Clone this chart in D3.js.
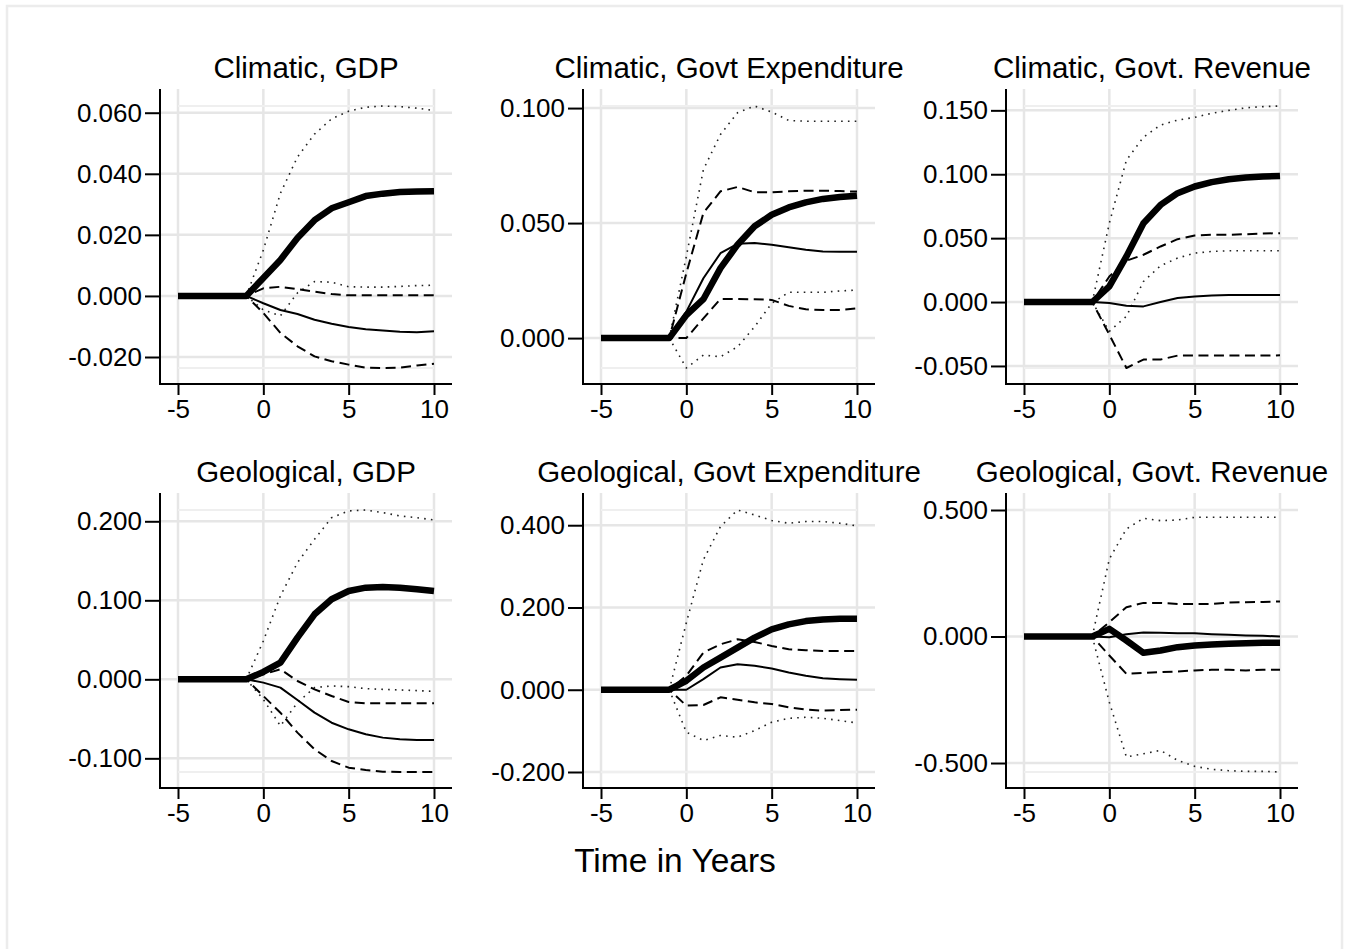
<!DOCTYPE html>
<html>
<head>
<meta charset="utf-8">
<script src="https://cdn.jsdelivr.net/npm/d3@7"></script>
<style>
  html, body { margin: 0; padding: 0; background: #fff; }
  svg { display: block; }
  text { font-family: "Liberation Sans", Arial, Helvetica, sans-serif; fill: #000; }
</style>
</head>
<body>
<svg id="chart" width="1346" height="949"></svg>
<script>
// Horizon in years relative to the disaster
const years = [-5, -4, -3, -2, -1, 0, 1, 2, 3, 4, 5, 6, 7, 8, 9, 10];
const xTicks = [-5, 0, 5, 10];

// Climatic disaster, GDP
const climGdpEst   = [0,0,0,0,0, 0.0059, 0.0118, 0.0190, 0.0248, 0.0287, 0.0307, 0.0327, 0.0335, 0.0340, 0.0342, 0.0343];
const climGdpAlt   = [0,0,0,0,0, -0.0024, -0.0046, -0.0059, -0.0078, -0.0091, -0.0102, -0.0109, -0.0113, -0.0117, -0.0119, -0.0116];
const climGdpHi90  = [0,0,0,0,0, 0.0025, 0.0030, 0.0022, 0.0014, 0.0006, 0.0002, 0.0002, 0.0002, 0.0002, 0.0002, 0.0002];
const climGdpLo90  = [0,0,0,0,0, -0.0056, -0.0121, -0.0165, -0.0198, -0.0214, -0.0225, -0.0235, -0.0236, -0.0235, -0.0228, -0.0222];
const climGdpHi95  = [0,0,0,0,0, 0.0150, 0.0336, 0.0455, 0.0530, 0.0580, 0.0605, 0.0618, 0.0622, 0.0620, 0.0615, 0.0607];
const climGdpLo95  = [0,0,0,0,0, -0.0046, -0.0065, 0.0010, 0.0047, 0.0045, 0.0030, 0.0029, 0.0029, 0.0031, 0.0034, 0.0035];

// Climatic disaster, government expenditure
const climExpEst   = [0,0,0,0,0, 0.0100, 0.0169, 0.0304, 0.0406, 0.0486, 0.0536, 0.0568, 0.0590, 0.0605, 0.0613, 0.0619];
const climExpAlt   = [0,0,0,0,0, 0.0115, 0.0260, 0.0369, 0.0410, 0.0413, 0.0406, 0.0395, 0.0384, 0.0376, 0.0375, 0.0375];
const climExpHi90  = [0,0,0,0,0, 0.0282, 0.0544, 0.0638, 0.0657, 0.0634, 0.0634, 0.0638, 0.0641, 0.0641, 0.0639, 0.0637];
const climExpLo90  = [0,0,0,0,0, 0, 0.0086, 0.0170, 0.0170, 0.0169, 0.0166, 0.0140, 0.0125, 0.0122, 0.0122, 0.0129];
const climExpHi95  = [0,0,0,0,0, 0.0355, 0.0733, 0.0885, 0.0980, 0.1009, 0.0983, 0.0946, 0.0943, 0.0943, 0.0943, 0.0943];
const climExpLo95  = [0,0,0,0,0, -0.0130, -0.0074, -0.0081, -0.0038, 0.0049, 0.0151, 0.0199, 0.0199, 0.0199, 0.0205, 0.0209];

// Climatic disaster, government revenue
const climRevEst   = [0,0,0,0,0, 0.0122, 0.0357, 0.0617, 0.0760, 0.0852, 0.0904, 0.0938, 0.0961, 0.0974, 0.0982, 0.0987];
const climRevAlt   = [0,0,0,0,0, -0.0008, -0.0029, -0.0034, 0, 0.0031, 0.0044, 0.0052, 0.0055, 0.0055, 0.0055, 0.0055];
const climRevHi90  = [0,0,0,0,0, 0.0200, 0.0323, 0.0370, 0.0435, 0.0492, 0.0521, 0.0526, 0.0526, 0.0531, 0.0536, 0.0539];
const climRevLo90  = [0,0,0,0,0, -0.0255, -0.0516, -0.0450, -0.0450, -0.0419, -0.0419, -0.0419, -0.0419, -0.0419, -0.0419, -0.0417];
const climRevHi95  = [0,0,0,0,0, 0.0617, 0.1110, 0.1290, 0.1385, 0.1424, 0.1445, 0.1477, 0.1500, 0.1520, 0.1529, 0.1534];
const climRevLo95  = [0,0,0,0,0, -0.0229, -0.0112, 0.0161, 0.0284, 0.0344, 0.0383, 0.0396, 0.0401, 0.0401, 0.0401, 0.0401];

// Geological disaster, GDP
const geoGdpEst    = [0,0,0,0,0, 0.0093, 0.0211, 0.0527, 0.0823, 0.1013, 0.1118, 0.1160, 0.1169, 0.1160, 0.1139, 0.1118];
const geoGdpAlt    = [0,0,0,0,0, -0.0042, -0.0105, -0.0262, -0.0422, -0.0549, -0.0633, -0.0696, -0.0738, -0.0760, -0.0768, -0.0768];
const geoGdpHi90   = [0,0,0,0,0, 0.0063, 0.0127, -0.0021, -0.0127, -0.0211, -0.0287, -0.0304, -0.0304, -0.0304, -0.0304, -0.0304];
const geoGdpLo90   = [0,0,0,0,0, -0.0211, -0.0422, -0.0675, -0.0886, -0.1034, -0.1118, -0.1148, -0.1169, -0.1173, -0.1173, -0.1173];
const geoGdpHi95   = [0,0,0,0,0, 0.0485, 0.1055, 0.1477, 0.1772, 0.2046, 0.2131, 0.2143, 0.2110, 0.2068, 0.2046, 0.2017];
const geoGdpLo95   = [0,0,0,0,0, -0.0253, -0.0590, -0.0295, -0.0105, -0.0084, -0.0093, -0.0118, -0.0127, -0.0135, -0.0143, -0.0152];

// Geological disaster, government expenditure
const geoExpEst    = [0,0,0,0,0, 0.0218, 0.0540, 0.0782, 0.1024, 0.1266, 0.1468, 0.1589, 0.1669, 0.1710, 0.1726, 0.1726];
const geoExpAlt    = [0,0,0,0,0, 0, 0.0258, 0.0540, 0.0621, 0.0581, 0.0516, 0.0419, 0.0339, 0.0282, 0.0258, 0.0242];
const geoExpHi90   = [0,0,0,0,0, 0.0339, 0.0903, 0.1105, 0.1226, 0.1161, 0.1065, 0.0984, 0.0960, 0.0944, 0.0944, 0.0944];
const geoExpLo90   = [0,0,0,0,0, -0.0387, -0.0371, -0.0185, -0.0242, -0.0306, -0.0347, -0.0427, -0.0484, -0.0508, -0.0492, -0.0484];
const geoExpHi95   = [0,0,0,0,0, 0.1629, 0.3161, 0.3968, 0.4370, 0.4250, 0.4113, 0.4048, 0.4089, 0.4089, 0.4048, 0.3984];
const geoExpLo95   = [0,0,0,0,0, -0.1032, -0.1234, -0.1113, -0.1153, -0.0992, -0.0790, -0.0694, -0.0669, -0.0694, -0.0750, -0.0806];

// Geological disaster, government revenue
const geoRevEst    = [0,0,0,0,0, 0.0303, -0.0158, -0.0645, -0.0553, -0.0421, -0.0355, -0.0316, -0.0290, -0.0263, -0.0250, -0.0250];
const geoRevAlt    = [0,0,0,0,0, -0.0026, 0.0092, 0.0158, 0.0145, 0.0132, 0.0132, 0.0092, 0.0066, 0.0039, 0.0026, 0];
const geoRevHi90   = [0,0,0,0,0, 0.0566, 0.1158, 0.1329, 0.1329, 0.1289, 0.1289, 0.1289, 0.1342, 0.1355, 0.1368, 0.1382];
const geoRevLo90   = [0,0,0,0,0, -0.0750, -0.1474, -0.1434, -0.1408, -0.1382, -0.1342, -0.1316, -0.1316, -0.1342, -0.1316, -0.1316];
const geoRevHi95   = [0,0,0,0,0, 0.3066, 0.4250, 0.4671, 0.4579, 0.4605, 0.4711, 0.4711, 0.4711, 0.4711, 0.4711, 0.4711];
const geoRevLo95   = [0,0,0,0,0, -0.2600, -0.4763, -0.4632, -0.4500, -0.4895, -0.5132, -0.5250, -0.5303, -0.5329, -0.5329, -0.5355];

// Panel titles and y tick values
const panelTitles = [
  "Climatic, GDP", "Climatic, Govt Expenditure", "Climatic, Govt. Revenue",
  "Geological, GDP", "Geological, Govt Expenditure", "Geological, Govt. Revenue"
];
const yTicksByPanel = [
  [-0.02, 0, 0.02, 0.04, 0.06],
  [0, 0.05, 0.1],
  [-0.05, 0, 0.05, 0.1, 0.15],
  [-0.1, 0, 0.1, 0.2],
  [-0.2, 0, 0.2, 0.4],
  [-0.5, 0, 0.5]
];
const seriesByPanel = [
  [climGdpHi95, climGdpLo95, climGdpHi90, climGdpLo90, climGdpAlt, climGdpEst],
  [climExpHi95, climExpLo95, climExpHi90, climExpLo90, climExpAlt, climExpEst],
  [climRevHi95, climRevLo95, climRevHi90, climRevLo90, climRevAlt, climRevEst],
  [geoGdpHi95, geoGdpLo95, geoGdpHi90, geoGdpLo90, geoGdpAlt, geoGdpEst],
  [geoExpHi95, geoExpLo95, geoExpHi90, geoExpLo90, geoExpAlt, geoExpEst],
  [geoRevHi95, geoRevLo95, geoRevHi90, geoRevLo90, geoRevAlt, geoRevEst]
];
const xTitle = "Time in Years";

// Line styles, in drawing order: dotted bands, dashed bands, thin solid, thick estimate
const lineStyles = [
  { width: 1.6, dash: "1.6 5.2", color: "#222" },
  { width: 1.6, dash: "1.6 5.2", color: "#222" },
  { width: 2.0, dash: "10 5.5", color: "#000" },
  { width: 2.0, dash: "10 5.5", color: "#000" },
  { width: 2.0, dash: null, color: "#000" },
  { width: 6.5, dash: null, color: "#000" }
];

const svg = d3.select("#chart");

// outer frame of the combined graph
svg.append("rect")
  .attr("x", 7).attr("y", 6).attr("width", 1335).attr("height", 970)
  .attr("fill", "none").attr("stroke", "#ececec").attr("stroke-width", 2.5);

// panel geometry
const colAxisX = [160, 583, 1006];
const rowTop = [89, 493];
const plotW = 292, plotH = 295;
const padX = 18, padTop = 17, padBottom = 16;

// plain hyphen for negative numbers
const locale = d3.formatLocale({ decimal: ".", thousands: ",", grouping: [3], currency: ["", ""], minus: "-" });
const fmtY = locale.format(".3f");
const fmtX = locale.format("d");

panelTitles.forEach((title, i) => {
  const col = i % 3, row = Math.floor(i / 3);
  const left = colAxisX[col], top = rowTop[row];
  const bottom = top + plotH, right = left + plotW;
  const series = seriesByPanel[i];
  const yTicks = yTicksByPanel[i];

  const x = d3.scaleLinear().domain([-5, 10]).range([left + padX, right - padX]);
  const allVals = series.flat().concat(yTicks);
  const yExt = d3.extent(allVals);
  const y = d3.scaleLinear().domain(yExt).range([bottom - padBottom, top + padTop]);

  const g = svg.append("g");

  // gridlines
  g.append("g").selectAll("line").data(yTicks).join("line")
    .attr("x1", left).attr("x2", right)
    .attr("y1", d => y(d)).attr("y2", d => y(d))
    .attr("stroke", "#e6e6e6").attr("stroke-width", 2.5);
  g.append("g").selectAll("line").data(xTicks).join("line")
    .attr("x1", d => x(d)).attr("x2", d => x(d))
    .attr("y1", top).attr("y2", bottom)
    .attr("stroke", "#e6e6e6").attr("stroke-width", 2.5);
  // faint lines at the range extremes
  g.append("g").selectAll("line").data(yExt).join("line")
    .attr("x1", x(-5)).attr("x2", x(10))
    .attr("y1", d => y(d)).attr("y2", d => y(d))
    .attr("stroke", "#efefef").attr("stroke-width", 2);

  // series lines
  const line = d3.line().x((d, k) => x(years[k])).y(d => y(d));
  series.forEach((s, k) => {
    const st = lineStyles[k];
    g.append("path")
      .datum(s)
      .attr("d", line)
      .attr("fill", "none")
      .attr("stroke", st.color)
      .attr("stroke-width", st.width)
      .attr("stroke-dasharray", st.dash)
      .attr("stroke-linejoin", "round");
  });

  // y axis
  const yAxis = d3.axisLeft(y).tickValues(yTicks).tickFormat(fmtY).tickSize(15).tickPadding(3);
  const ya = g.append("g").attr("transform", `translate(${left},0)`).call(yAxis);
  ya.attr("font-family", null).attr("font-size", null);
  ya.select(".domain").remove();
  ya.selectAll(".tick line").attr("stroke", "#000").attr("stroke-width", 2);
  ya.selectAll(".tick text").attr("font-size", 26).attr("fill", "#000");
  g.append("line").attr("x1", left).attr("x2", left).attr("y1", top).attr("y2", bottom + 1)
    .attr("stroke", "#000").attr("stroke-width", 2);

  // x axis
  const xAxis = d3.axisBottom(x).tickValues(xTicks).tickFormat(fmtX).tickSize(11).tickPadding(5);
  const xa = g.append("g").attr("transform", `translate(0,${bottom})`).call(xAxis);
  xa.attr("font-family", null).attr("font-size", null);
  xa.select(".domain").remove();
  xa.selectAll(".tick line").attr("stroke", "#000").attr("stroke-width", 2);
  xa.selectAll(".tick text").attr("font-size", 26).attr("fill", "#000");
  g.append("line").attr("x1", left - 1).attr("x2", right).attr("y1", bottom).attr("y2", bottom)
    .attr("stroke", "#000").attr("stroke-width", 2);

  // panel title
  g.append("text")
    .attr("x", (left + right) / 2).attr("y", top - 11)
    .attr("text-anchor", "middle")
    .attr("font-size", 29.5)
    .text(title);
});

// shared x-axis title
svg.append("text")
  .attr("x", 675).attr("y", 872)
  .attr("text-anchor", "middle")
  .attr("font-size", 33.5)
  .text(xTitle);
</script>
</body>
</html>
